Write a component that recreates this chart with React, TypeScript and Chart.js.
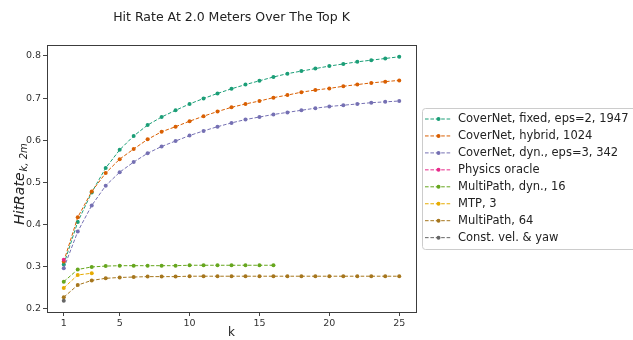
import React, { useEffect, useRef } from "react";
import { Chart, registerables } from "chart.js";

Chart.register(...registerables);

const FONT = "'DejaVu Sans', sans-serif";

const titleText = "Hit Rate At 2.0 Meters Over The Top K";
const xAxisLabel = "k";
const yAxisMain = "HitRate";
const yAxisSub = "k, 2m";

const kValues = [1, 2, 3, 4, 5, 6, 7, 8, 9, 10, 11, 12, 13, 14, 15, 16, 17, 18, 19, 20, 21, 22, 23, 24, 25];
const xTickValues = [1, 5, 10, 15, 20, 25];
const yTickValues = [0.2, 0.3, 0.4, 0.5, 0.6, 0.7, 0.8];

const seriesLabels = [
  "CoverNet, fixed, eps=2, 1947",
  "CoverNet, hybrid, 1024",
  "CoverNet, dyn., eps=3, 342",
  "Physics oracle",
  "MultiPath, dyn., 16",
  "MTP, 3",
  "MultiPath, 64",
  "Const. vel. & yaw",
];

const seriesColors = ["#1b9e77", "#d95f02", "#7570b3", "#e7298a", "#66a61e", "#e6ab02", "#a6761d", "#666666"];

const coverNetFixed = [0.305, 0.406, 0.476, 0.534, 0.577, 0.610, 0.636, 0.655, 0.671, 0.686, 0.699, 0.711, 0.722, 0.732, 0.741, 0.750, 0.758, 0.764, 0.770, 0.776, 0.781, 0.786, 0.790, 0.794, 0.798];
const coverNetHybrid = [0.312, 0.417, 0.478, 0.522, 0.555, 0.579, 0.602, 0.620, 0.632, 0.645, 0.657, 0.668, 0.678, 0.686, 0.693, 0.701, 0.707, 0.714, 0.719, 0.723, 0.728, 0.732, 0.736, 0.739, 0.742];
const coverNetDyn = [0.296, 0.383, 0.445, 0.492, 0.524, 0.548, 0.569, 0.585, 0.598, 0.611, 0.622, 0.632, 0.641, 0.649, 0.655, 0.661, 0.666, 0.671, 0.676, 0.680, 0.683, 0.686, 0.689, 0.691, 0.693];
const physicsOracle = [0.316];
const multiPathDyn = [0.264, 0.293, 0.299, 0.301, 0.302, 0.302, 0.302, 0.302, 0.302, 0.303, 0.303, 0.303, 0.303, 0.303, 0.303, 0.303];
const mtp = [0.249, 0.280, 0.284];
const multiPath64 = [0.227, 0.256, 0.267, 0.272, 0.274, 0.275, 0.276, 0.276, 0.276, 0.277, 0.277, 0.277, 0.277, 0.277, 0.277, 0.277, 0.277, 0.277, 0.277, 0.277, 0.277, 0.277, 0.277, 0.277, 0.277];
const constVel = [0.219];

const seriesValues = [coverNetFixed, coverNetHybrid, coverNetDyn, physicsOracle, multiPathDyn, mtp, multiPath64, constVel];

const DASH = [3.6, 1.8];

const decorPlugin = {
  id: "decor",
  afterDraw(chart: any) {
    const ctx: CanvasRenderingContext2D = chart.ctx;
    const a = chart.chartArea;
    ctx.save();
    // frame
    ctx.strokeStyle = "#3c3c3c";
    ctx.lineWidth = 1;
    ctx.setLineDash([]);
    ctx.strokeRect(Math.round(a.left) + 0.5, Math.round(a.top) + 0.5, Math.round(a.right - a.left), Math.round(a.bottom - a.top));

    // title
    ctx.fillStyle = "#222";
    ctx.font = `12.5px ${FONT}`;
    ctx.textAlign = "center";
    ctx.textBaseline = "middle";
    ctx.fillText(titleText, (a.left + a.right) / 2, 18);

    // x label
    ctx.font = `12px ${FONT}`;
    ctx.fillText(xAxisLabel, (a.left + a.right) / 2, 333);

    // y label (rotated, italic + subscript)
    ctx.save();
    ctx.translate(19, 184);
    ctx.rotate(-Math.PI / 2);
    ctx.textAlign = "left";
    ctx.textBaseline = "alphabetic";
    const mainFont = `italic 14px ${FONT}`;
    const subFont = `italic 10px ${FONT}`;
    ctx.font = mainFont;
    const w1 = ctx.measureText(yAxisMain).width;
    ctx.font = subFont;
    const w2 = ctx.measureText(yAxisSub).width;
    const total = w1 + 1 + w2;
    ctx.font = mainFont;
    ctx.fillText(yAxisMain, -total / 2, 5);
    ctx.font = subFont;
    ctx.fillText(yAxisSub, -total / 2 + w1 + 1, 8);
    ctx.restore();

    // legend
    const lx = 422;
    const ltop = 108;
    const lh = 141;
    const rowH = 16.95;
    ctx.fillStyle = "rgba(255,255,255,0.85)";
    ctx.strokeStyle = "#cccccc";
    ctx.lineWidth = 1;
    ctx.beginPath();
    (ctx as any).roundRect(lx + 0.5, ltop + 0.5, 240, lh, 3);
    ctx.fill();
    ctx.stroke();
    const dsets = chart.data.datasets;
    ctx.font = `11.5px ${FONT}`;
    ctx.textAlign = "left";
    ctx.textBaseline = "middle";
    for (let i = 0; i < dsets.length; i++) {
      const ds = dsets[i];
      const cy = 119 + i * rowH;
      ctx.strokeStyle = ds.borderColor;
      ctx.lineWidth = 1;
      ctx.setLineDash(DASH);
      ctx.beginPath();
      ctx.moveTo(425, cy);
      ctx.lineTo(452, cy);
      ctx.stroke();
      ctx.setLineDash([]);
      ctx.fillStyle = ds.borderColor;
      ctx.beginPath();
      ctx.arc(438.5, cy, 2, 0, Math.PI * 2);
      ctx.fill();
      ctx.fillStyle = "#222";
      ctx.fillText(ds.label, 458, cy);
    }
    ctx.restore();
  },
};

export default function App() {
  const ref = useRef<HTMLCanvasElement | null>(null);

  useEffect(() => {
    if (!ref.current) return;
    const n = seriesValues.length;
    const datasets = seriesValues.map((vals, i) => ({
      label: seriesLabels[i],
      data: vals.map((v, j) => ({ x: kValues[j], y: v })),
      borderColor: seriesColors[i],
      backgroundColor: seriesColors[i],
      borderWidth: 1,
      borderDash: DASH,
      pointRadius: 2,
      pointBorderWidth: 0,
      pointHoverRadius: 2,
      tension: 0,
      fill: false,
      order: n - i,
    }));

    const chart = new Chart(ref.current, {
      type: "line",
      data: { datasets },
      options: {
        animation: false,
        responsive: false,
        devicePixelRatio: 1,
        parsing: true,
        layout: { padding: { top: 45, right: 217, left: 0, bottom: 0 }, autoPadding: false },
        plugins: {
          legend: { display: false },
          title: { display: false },
          tooltip: { enabled: false },
        },
        scales: {
          x: {
            type: "linear",
            min: -0.2,
            max: 26.2,
            afterBuildTicks: (scale: any) => {
              scale.ticks = xTickValues.map((v) => ({ value: v }));
            },
            afterFit: (scale: any) => {
              scale.height = 28;
            },
            ticks: {
              font: { family: FONT, size: 9.5 },
              color: "#333",
              padding: 2,
              maxRotation: 0,
              autoSkip: false,
              callback: (v: any) => String(v),
            },
            grid: { drawOnChartArea: false, drawTicks: true, tickLength: 4, color: "#444" },
            border: { display: false },
          },
          y: {
            type: "linear",
            min: 0.192,
            max: 0.826,
            afterBuildTicks: (scale: any) => {
              scale.ticks = yTickValues.map((v) => ({ value: v }));
            },
            afterFit: (scale: any) => {
              scale.width = 47;
            },
            ticks: {
              font: { family: FONT, size: 9.5 },
              color: "#333",
              padding: 2,
              autoSkip: false,
              callback: (v: any) => Number(v).toFixed(1),
            },
            grid: { drawOnChartArea: false, drawTicks: true, tickLength: 4, color: "#444" },
            border: { display: false },
          },
        },
      },
      plugins: [decorPlugin],
    });
    return () => chart.destroy();
  }, []);

  return (
    <div style={{ position: "absolute", left: 0, top: 0, width: 633, height: 340, background: "#fff" }}>
      <canvas ref={ref} width={633} height={340} style={{ width: 633, height: 340, display: "block" }} />
    </div>
  );
}
